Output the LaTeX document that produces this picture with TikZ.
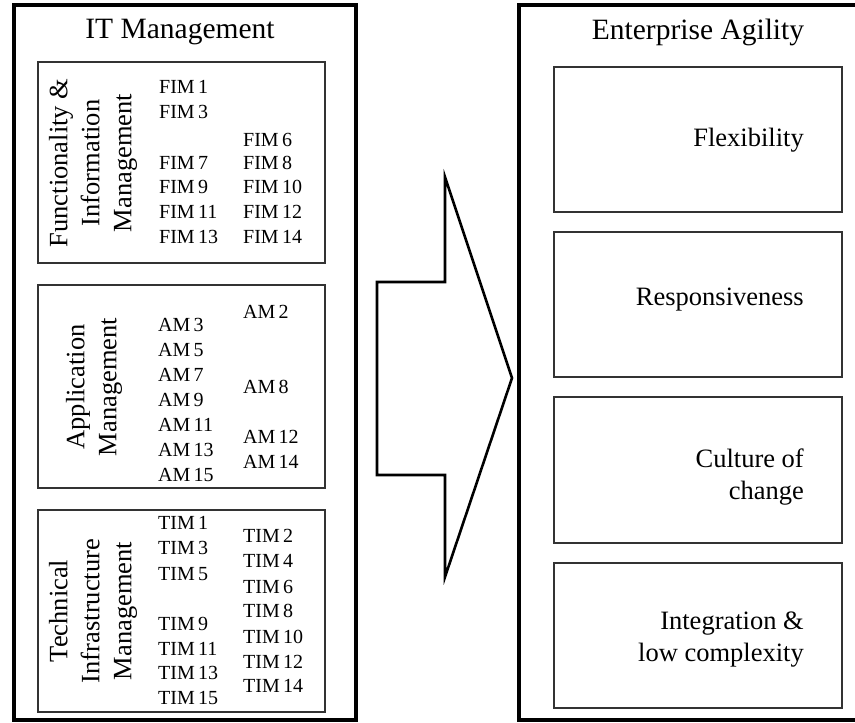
\documentclass[tikz,border=0pt]{standalone}
\usepackage{fontspec}
\setmainfont{Liberation Serif}
\begin{document}
\begin{tikzpicture}[x=1pt,y=-1pt,
  outerbox/.style={draw, line width=3.5pt},
  innerbox/.style={draw=black!80, line width=1.3pt},
  item/.style={anchor=west, inner sep=0pt, font=\fontsize{20}{24}\selectfont},
  vlabel/.style={rotate=90, align=center, inner sep=0pt, font=\fontsize{26.5}{32}\selectfont},
  title/.style={inner sep=0pt, font=\fontsize{29.5}{34}\selectfont},
  rlabel/.style={anchor=east, align=right, inner sep=0pt, font=\fontsize{26.5}{32}\selectfont},
  bigarrow/.style={draw, line width=2.6pt, line join=miter}]
\useasboundingbox (0,0) rectangle (855,723);
% outer boxes
\draw[outerbox] (14,5) rectangle (356,720);
\draw[outerbox] (519,5) rectangle (880,720);
\node[title] (ittitle) at (180,32) {IT Management};
\node[title] (eatitle) at (698,32) {Enterprise Agility};
% left inner boxes
\draw[innerbox] (38,62) rectangle (325,263);
\draw[innerbox] (38,285) rectangle (325,488);
\draw[innerbox] (38,510) rectangle (325,712);
\node[vlabel] (fimlab) at (93,163) {Functionality \&\\Information\\Management};
\node[vlabel] (amlab) at (94,387) {Application\\Management};
\node[vlabel] (timlab) at (93,611) {Technical\\Infrastructure\\Management};
% FIM items
\foreach \t/\y [count=\i] in {FIM\,1/87, FIM\,3/112, FIM\,7/163, FIM\,9/187, FIM\,11/212, FIM\,13/237}
  \node[item] (fimL\i) at (159,\y) {\t};
\foreach \t/\y [count=\i] in {FIM\,6/140, FIM\,8/163, FIM\,10/187, FIM\,12/212, FIM\,14/237}
  \node[item] (fimR\i) at (243,\y) {\t};
% AM items
\foreach \t/\y [count=\i] in {AM\,3/325, AM\,5/350, AM\,7/375, AM\,9/400, AM\,11/425, AM\,13/450, AM\,15/475}
  \node[item] (amL\i) at (158,\y) {\t};
\foreach \t/\y [count=\i] in {AM\,2/312, AM\,8/387, AM\,12/437, AM\,14/462}
  \node[item] (amR\i) at (243,\y) {\t};
% TIM items
\foreach \t/\y [count=\i] in {TIM\,1/523, TIM\,3/548, TIM\,5/574, TIM\,9/624, TIM\,11/649, TIM\,13/673, TIM\,15/698}
  \node[item] (timL\i) at (158,\y) {\t};
\foreach \t/\y [count=\i] in {TIM\,2/536, TIM\,4/561, TIM\,6/587, TIM\,8/611, TIM\,10/637, TIM\,12/662, TIM\,14/686}
  \node[item] (timR\i) at (243,\y) {\t};
% big arrow
\draw[bigarrow] (377,282) -- (445,282) -- (445,177) -- (512,378) -- (445,577) -- (445,475) -- (377,475) -- cycle;
% right boxes
\draw[innerbox] (554,67) rectangle (842,212);
\draw[innerbox] (554,232) rectangle (842,377);
\draw[innerbox] (554,397) rectangle (842,543);
\draw[innerbox] (554,563) rectangle (842,708);
\node[rlabel] (flex) at (804,140) {Flexibility};
\node[rlabel] (resp) at (804,300) {Responsiveness};
\node[rlabel] (cult) at (804,477) {Culture of\\change};
\node[rlabel] (integ) at (804,640) {Integration \&\\low complexity};
\end{tikzpicture}
\end{document}
